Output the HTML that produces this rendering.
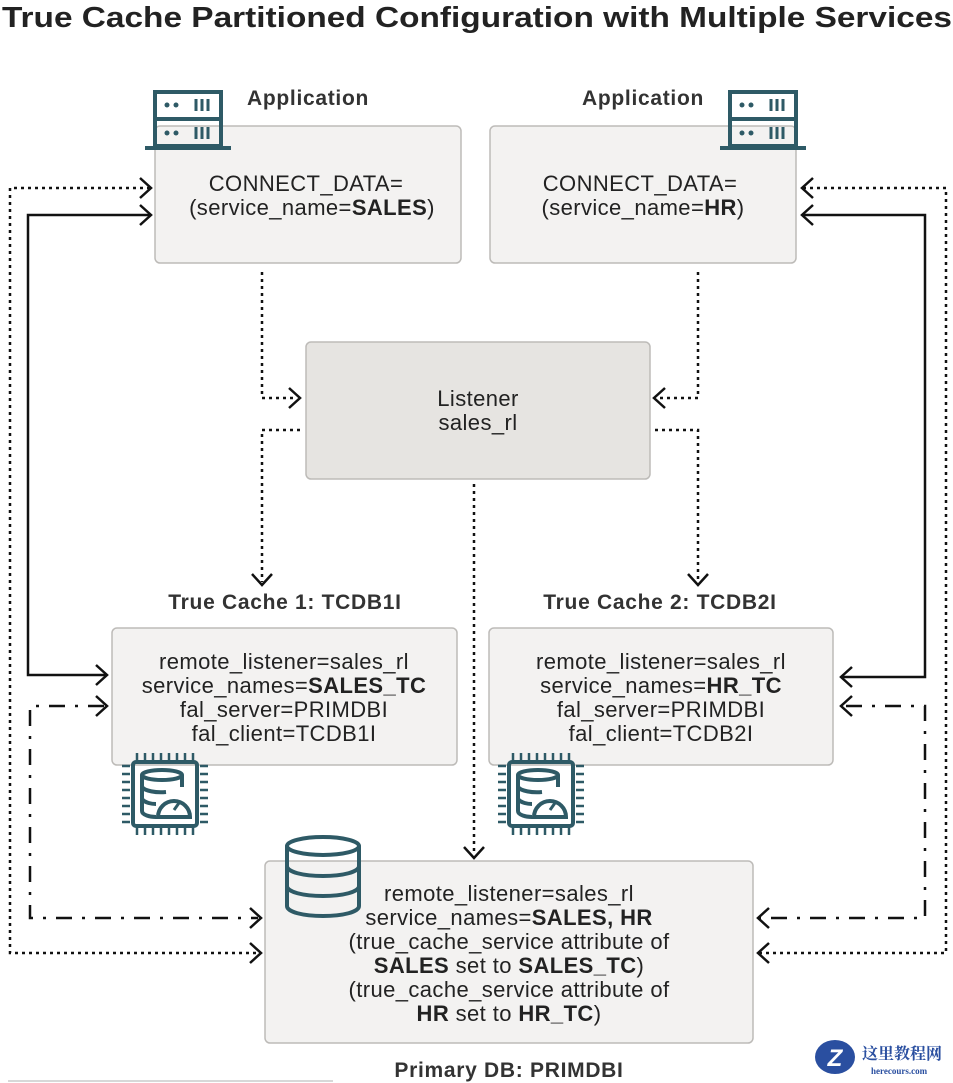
<!DOCTYPE html>
<html><head><meta charset="utf-8"><style>
body{margin:0;background:#fff;width:953px;height:1083px;overflow:hidden}
svg{display:block;font-family:"Liberation Sans",sans-serif}
.t{font-size:22px;fill:#222;text-anchor:middle;letter-spacing:0.4px}
.b{font-weight:bold}
.h{font-size:21px;font-weight:bold;fill:#333;text-anchor:middle;letter-spacing:0.7px}
.box{fill:#f3f2f1;stroke:#bdbbb8;stroke-width:1.5}
.dot{fill:none;stroke:#111;stroke-width:2.5;stroke-dasharray:3,4}
.sol{fill:none;stroke:#111;stroke-width:2.5}
.dd{fill:none;stroke:#111;stroke-width:2.5;stroke-dasharray:16,10,3,10}
.ar{fill:none;stroke:#111;stroke-width:2.5}
.ic{fill:none;stroke:#2e5a66;stroke-width:4}
</style></head><body>
<svg width="953" height="1083" viewBox="0 0 953 1083">
<text x="2" y="27" font-size="29" font-weight="bold" fill="#222" textLength="950" lengthAdjust="spacingAndGlyphs">True Cache Partitioned Configuration with Multiple Services</text>

<rect class="box" x="155" y="126" width="306" height="137" rx="5"/>
<rect class="box" x="490" y="126" width="306" height="137" rx="5"/>
<rect x="306" y="342" width="344" height="137" rx="5" fill="#e6e4e1" stroke="#bdbbb8" stroke-width="1.5"/>
<rect class="box" x="112" y="628" width="345" height="137" rx="5"/>
<rect class="box" x="489" y="628" width="344" height="137" rx="5"/>
<rect class="box" x="265" y="861" width="488" height="182" rx="5"/>

<text class="h" x="308" y="105">Application</text>
<text class="h" x="643" y="105">Application</text>
<text class="h" x="285" y="609">True Cache 1: TCDB1I</text>
<text class="h" x="660" y="609">True Cache 2: TCDB2I</text>
<text class="h" x="509" y="1077">Primary DB: PRIMDBI</text>

<text class="t" x="306" y="191">CONNECT_DATA=</text>
<text class="t" x="312" y="215">(service_name=<tspan class="b">SALES</tspan>)</text>
<text class="t" x="640" y="191">CONNECT_DATA=</text>
<text class="t" x="643" y="215">(service_name=<tspan class="b">HR</tspan>)</text>
<text class="t" x="478" y="406">Listener</text>
<text class="t" x="478" y="430">sales_rl</text>
<text class="t" x="284" y="669">remote_listener=sales_rl</text>
<text class="t" x="284" y="693">service_names=<tspan class="b">SALES_TC</tspan></text>
<text class="t" x="284" y="717">fal_server=PRIMDBI</text>
<text class="t" x="284" y="741">fal_client=TCDB1I</text>
<text class="t" x="661" y="669">remote_listener=sales_rl</text>
<text class="t" x="661" y="693">service_names=<tspan class="b">HR_TC</tspan></text>
<text class="t" x="661" y="717">fal_server=PRIMDBI</text>
<text class="t" x="661" y="741">fal_client=TCDB2I</text>
<text class="t" x="509" y="901">remote_listener=sales_rl</text>
<text class="t" x="509" y="925">service_names=<tspan class="b">SALES, HR</tspan></text>
<text class="t" x="509" y="949">(true_cache_service attribute of</text>
<text class="t" x="509" y="973"><tspan class="b">SALES</tspan> set to <tspan class="b">SALES_TC</tspan>)</text>
<text class="t" x="509" y="997">(true_cache_service attribute of</text>
<text class="t" x="509" y="1021"><tspan class="b">HR</tspan> set to <tspan class="b">HR_TC</tspan>)</text>

<path class="dot" d="M150 188 H10 V953 H260"/>
<path class="sol" d="M150 215 H28 V675 H106"/>
<path class="dd" d="M104 706 H30 V918 H258"/>
<path class="ar" d="M140 178 L151 188 L140 198 M140 205 L151 215 L140 225 M96 665 L107 675 L96 685 M96 696 L107 706 L96 716 M250 908 L261 918 L250 928 M250 943 L261 953 L250 963"/>
<path class="dot" d="M803 188 H946 V953 H760"/>
<path class="sol" d="M803 215 H925 V677 H842"/>
<path class="dd" d="M846 706 H925 V918 H760"/>
<path class="ar" d="M813 178 L802 188 L813 198 M813 205 L802 215 L813 225 M852 667 L841 677 L852 687 M852 696 L841 706 L852 716 M769 908 L758 918 L769 928 M769 943 L758 953 L769 963"/>
<path class="dot" d="M262 272 V398 H297"/>
<path class="dot" d="M698 272 V398 H657"/>
<path class="dot" d="M300 430 H262 V582"/>
<path class="dot" d="M655 430 H698 V582"/>
<path class="dot" d="M474 484 V854"/>
<path class="ar" d="M289 388 L300 398 L289 408 M665 388 L654 398 L665 408 M252 574 L262 585 L272 574 M688 574 L698 585 L708 574 M464 847 L474 858 L484 847"/>

<g id="srv">
<rect class="ic" x="155" y="92" width="66" height="54" stroke-width="4"/>
<line class="ic" x1="155" y1="119" x2="221" y2="119"/>
<line class="ic" x1="145" y1="148" x2="231" y2="148"/>
<circle cx="167" cy="105" r="2.5" fill="#2e5a66"/><circle cx="176" cy="105" r="2.5" fill="#2e5a66"/>
<circle cx="167" cy="133" r="2.5" fill="#2e5a66"/><circle cx="176" cy="133" r="2.5" fill="#2e5a66"/>
<path d="M196 99v12M202 99v12M208 99v12M196 127v12M202 127v12M208 127v12" stroke="#2e5a66" stroke-width="3"/>
</g>
<use href="#srv" transform="translate(575 0)"/>

<g id="chip">
<rect class="ic" x="133" y="762" width="64" height="64" rx="3"/>
<path d="M137 753v8M145 753v8M153 753v8M161 753v8M169 753v8M177 753v8M185 753v8M193 753v8M137 827v8M145 827v8M153 827v8M161 827v8M169 827v8M177 827v8M185 827v8M193 827v8M122 766h8M122 774h8M122 782h8M122 790h8M122 798h8M122 806h8M122 814h8M122 822h8M200 766h8M200 774h8M200 782h8M200 790h8M200 798h8M200 806h8M200 814h8M200 822h8" stroke="#2e5a66" stroke-width="2.5"/>
<ellipse class="ic" cx="162" cy="775" rx="20" ry="5" stroke-width="3"/>
<path class="ic" stroke-width="3" d="M142 775v36c0 4 8 6 14 6M142 787c3 4 14 6 24 5M142 799c3 4 10 5 14 5M182 775v12"/>
<path class="ic" stroke-width="3" d="M158 817a16 16 0 0 1 32 0z"/>
<line x1="174" y1="810" x2="179" y2="803" stroke="#2e5a66" stroke-width="3"/>
</g>
<use href="#chip" transform="translate(376 0)"/>

<g class="ic" stroke-width="4.5">
<ellipse cx="323" cy="846" rx="36" ry="9"/>
<path d="M287 846v60c0 6 16 10 36 10s36-4 36-10v-60M287 866c0 6 16 10 36 10s36-4 36-10M287 886c0 6 16 10 36 10s36-4 36-10"/>
</g>

<ellipse cx="835" cy="1057" rx="20" ry="17" fill="#2a4fa0"/>
<text x="835" y="1066" font-size="24" font-weight="bold" fill="#fff" text-anchor="middle" font-style="italic">Z</text>
<text x="862" y="1059" font-size="16" font-weight="bold" fill="#2a4fa0" font-family="'Liberation Serif','Noto Serif CJK SC',serif">这里教程网</text>
<text x="871" y="1074" font-size="9" font-weight="bold" fill="#2a4fa0" font-family="'Liberation Serif',serif">herecours.com</text>
<line x1="8" y1="1081" x2="333" y2="1081" stroke="#ccc" stroke-width="1.5"/>
</svg>
</body></html>
